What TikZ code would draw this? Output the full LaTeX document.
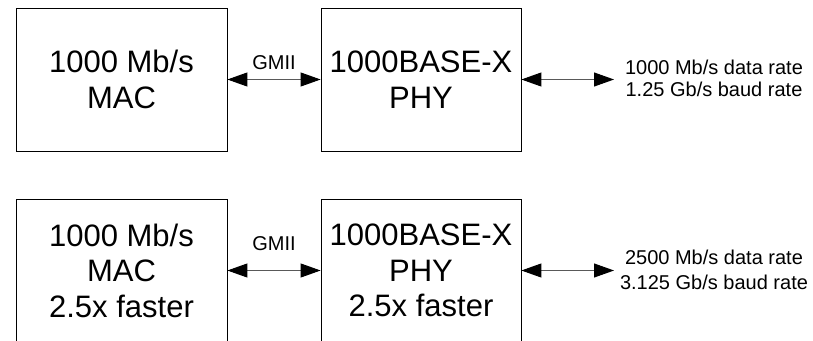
\documentclass[tikz,border=0pt]{standalone}
\usepackage{fontspec}
\setmainfont{Liberation Sans}
\usetikzlibrary{arrows.meta}

\begin{document}
\begin{tikzpicture}[
    x=1pt, y=-1pt,
    block/.style={draw=black, line width=0.8pt, minimum width=#1, minimum height=143pt,
      inner sep=0pt, align=center, font=\fontsize{31}{35.5}\selectfont},
    link/.style={draw=black!65, line width=1pt,
      arrows={Triangle[length=20pt,width=14pt,color=black]-Triangle[length=20pt,width=14pt,color=black]}},
    rate/.style={font=\fontsize{20}{22}\selectfont, align=center, inner sep=0pt}
  ]
  \useasboundingbox (0,0) rectangle (813,340);
  \clip (0,0) rectangle (813,340);

  % Top row
  \node[block=211pt] (mac1) at (121.5,79.5) {1000 Mb/s\\MAC};
  \node[block=200pt] (phy1) at (421,79.5) {1000BASE-X\\PHY};
  \node[rate] (rate1) at (714,78) {1000 Mb/s data rate\\1.25 Gb/s baud rate};
  \coordinate (end1) at (614,79.5);

  % Bottom row
  \node[block=211pt] (mac2) at (121.5,270.5) {1000 Mb/s\\MAC\\2.5x faster};
  \node[block=200pt] (phy2) at (421,270.5) {1000BASE-X\\PHY\\2.5x faster};
  \node[rate, font=\fontsize{20}{24.5}\selectfont] (rate2) at (714,270)
    {2500 Mb/s data rate\\3.125 Gb/s baud rate};
  \coordinate (end2) at (614,270.5);

  % Links
  \draw[link] (mac1.east) -- node[above=6pt, font=\fontsize{20}{22}\selectfont] {GMII} (phy1.west);
  \draw[link] (phy1.east) -- (end1);
  \draw[link] (mac2.east) -- node[above=16pt, font=\fontsize{20}{22}\selectfont] {GMII} (phy2.west);
  \draw[link] (phy2.east) -- (end2);
\end{tikzpicture}
\end{document}
